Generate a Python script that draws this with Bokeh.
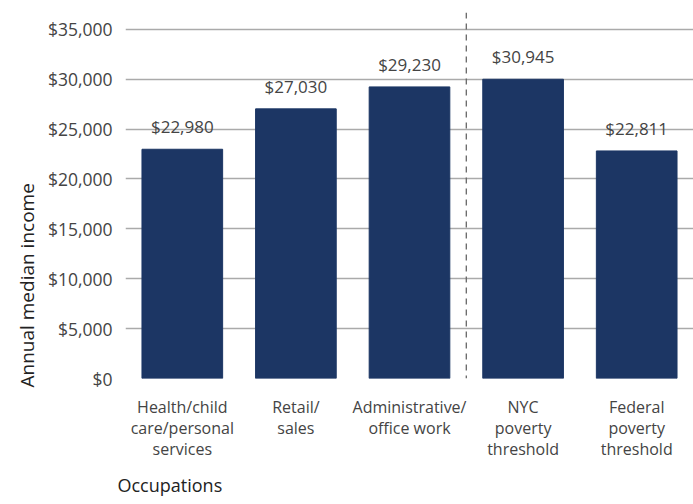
from bokeh.plotting import figure
from bokeh.models import ColumnDataSource, Span, Title, NumeralTickFormatter, FixedTicker
from bokeh.embed import file_html
from bokeh.resources import INLINE

categories = ["Health/child\ncare/personal\nservices", "Retail/\nsales", "Administrative/\noffice work",
              "NYC\npoverty\nthreshold", "Federal\npoverty\nthreshold"]
bar_heights = [22980, 27030, 29230, 30000, 22811]
value_labels = ["$22,980", "$27,030", "$29,230", "$30,945", "$22,811"]
y_ticks = [0, 5000, 10000, 15000, 20000, 25000, 30000, 35000]

FONT = "Open Sans"
BAR = "#1c3664"
TXT = "#444444"

src = ColumnDataSource(dict(cat=categories, h=bar_heights, lab=value_labels,
                            ly=[v + 1100 for v in bar_heights]))

p = figure(width=693, height=504, x_range=categories, y_range=(0, 36690),
           output_backend="svg", toolbar_location=None,
           min_border_left=125, min_border_right=0, min_border_top=12, min_border_bottom=0)
p.outline_line_color = None
p.background_fill_color = "white"
p.border_fill_color = "white"
p.x_range.range_padding = 0

p.vbar(x="cat", top="h", width=0.71, source=src, color=BAR)
p.text(x="cat", y="ly", text="lab", source=src, text_align="center", text_baseline="bottom",
       text_font={"value": FONT}, text_font_size="17px", text_color=TXT)

p.xgrid.grid_line_color = None
p.ygrid.grid_line_color = "#aaaaaa"
p.ygrid.grid_line_width = 1.3
p.ygrid.ticker = FixedTicker(ticks=y_ticks)

p.yaxis.ticker = FixedTicker(ticks=y_ticks)
p.yaxis.formatter = NumeralTickFormatter(format="$0,0")
p.yaxis.axis_line_color = None
p.yaxis.major_tick_line_color = None
p.yaxis.minor_tick_line_color = None
p.yaxis.major_label_standoff = 7
p.yaxis.major_label_text_font = FONT
p.yaxis.major_label_text_font_size = "17.5px"
p.yaxis.major_label_text_color = TXT

p.xaxis.axis_line_color = None
p.xaxis.major_tick_line_color = None
p.xaxis.minor_tick_line_color = None
p.xaxis.major_label_standoff = 11
p.xaxis.major_label_text_font = FONT
p.xaxis.major_label_text_font_size = "16px"
p.xaxis.major_label_text_line_height = 0.97
p.xaxis.major_label_text_color = TXT

sep = Span(location=3, dimension="height", line_color="#666666", line_width=1.3, line_dash="6 5")
p.add_layout(sep)

ytitle = Title(text="Annual median income", align="left", offset=-9, text_font=FONT,
               text_font_size="19px", text_font_style="normal", text_color="#222222", standoff=10,
               text_line_height=0.8)
p.add_layout(ytitle, "left")

occ = Title(text="Occupations", align="left", offset=-8, text_font=FONT, text_font_size="18px",
            text_font_style="normal", text_color="#222222", standoff=15, text_line_height=0.8)
p.add_layout(occ, "below")

open("out.html", "w").write(file_html(p, INLINE))
